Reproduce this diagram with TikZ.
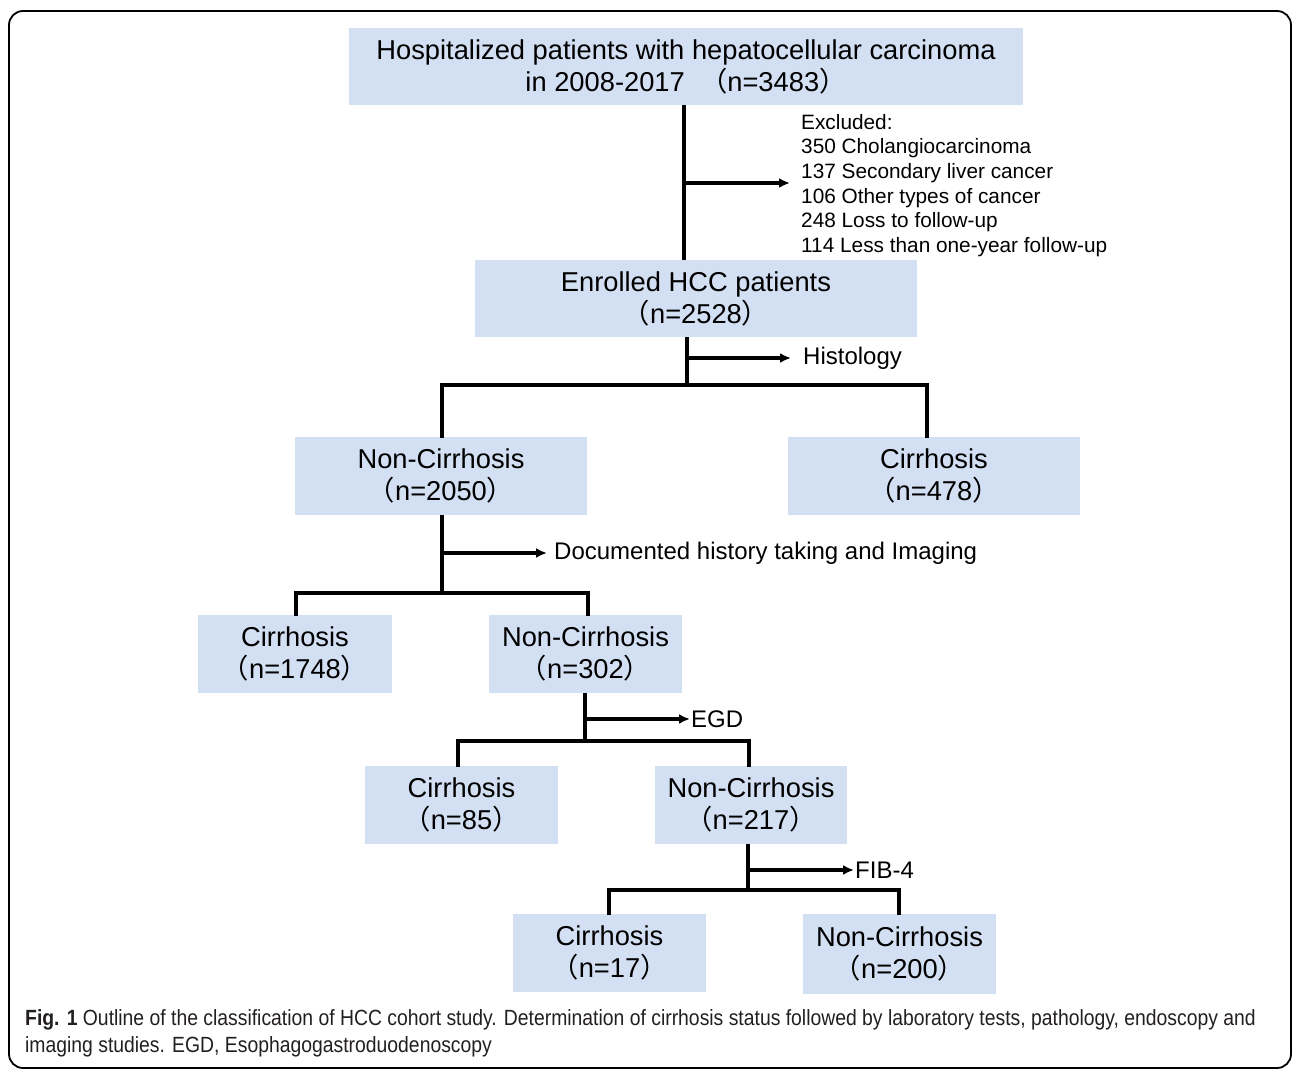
\documentclass[tikz,border=0pt]{standalone}
\usepackage{fontspec}
\setmainfont{Liberation Sans}
\newfontfamily\cjk{Noto Sans CJK SC}
\newfontfamily\capfont[FakeStretch=0.88]{Liberation Sans}
\usetikzlibrary{arrows.meta}
\definecolor{boxblue}{RGB}{211,223,242}
\definecolor{capgray}{RGB}{35,31,32}
\newcommand{\lpar}{{\cjk （}}
\newcommand{\rpar}{{\cjk ）}}
\begin{document}
\begin{tikzpicture}[x=1pt,y=-1pt,
  box/.style={fill=boxblue, inner sep=0pt, align=center, font=\fontsize{27.3}{32}\selectfont},
  conn/.style={line width=3.2pt, line cap=rect},
  arr/.style={line width=3.2pt, -{Latex[length=11pt,width=10pt]}},
  note/.style={inner sep=0pt, anchor=west, font=\fontsize{24}{28}\selectfont}]
\useasboundingbox (0,0) rectangle (1293,1071);
\draw[line width=1.8pt, rounded corners=14pt] (9,11) rectangle (1291,1068);

% boxes
\node[box, minimum width=674pt, minimum height=77pt] (top) at (686,66.5)
  {Hospitalized patients with hepatocellular carcinoma\\in 2008-2017 \ \lpar n=3483\rpar};
\node[box, minimum width=442pt, minimum height=77pt] (enr) at (696,298.5)
  {Enrolled HCC patients\\\lpar n=2528\rpar};
\node[box, minimum width=292pt, minimum height=78pt] (nc1) at (441,476)
  {Non-Cirrhosis\\\lpar n=2050\rpar};
\node[box, minimum width=292pt, minimum height=78pt] (c1) at (934,476)
  {Cirrhosis\\\lpar n=478\rpar};
\node[box, minimum width=194pt, minimum height=78pt] (c2) at (295,654)
  {Cirrhosis\\\lpar n=1748\rpar};
\node[box, minimum width=193pt, minimum height=78pt] (nc2) at (585.5,654)
  {Non-Cirrhosis\\\lpar n=302\rpar};
\node[box, minimum width=193pt, minimum height=78pt] (c3) at (461.5,805)
  {Cirrhosis\\\lpar n=85\rpar};
\node[box, minimum width=192pt, minimum height=78pt] (nc3) at (751,805)
  {Non-Cirrhosis\\\lpar n=217\rpar};
\node[box, minimum width=193pt, minimum height=78pt] (c4) at (609.5,953)
  {Cirrhosis\\\lpar n=17\rpar};
\node[box, minimum width=193pt, minimum height=80pt] (nc4) at (899.5,954)
  {Non-Cirrhosis\\\lpar n=200\rpar};

% excluded
\node[inner sep=0pt, anchor=north west, align=left, font=\fontsize{20.8}{24.6}\selectfont] (excl) at (801,114)
  {Excluded:\\350 Cholangiocarcinoma\\137 Secondary liver cancer\\106 Other types of cancer\\248 Loss to follow-up\\114 Less than one-year follow-up};
\node[note] (hist) at (803,358) {Histology};
\node[note] (doc) at (554,553) {Documented history taking and Imaging};
\node[note] (egd) at (691,719) {EGD};
\node[note] (fib) at (855,870) {FIB-4};

% junction coordinates
\coordinate (j1) at (684,183);
\coordinate (a1) at (790,183);
\coordinate (j2) at (687,358);
\coordinate (a2) at (791,358);
\coordinate (t2) at (687,385);
\coordinate (L2) at (442,385);
\coordinate (R2) at (927,385);
\coordinate (j3) at (442,553);
\coordinate (a3) at (547,553);
\coordinate (L3) at (296,593);
\coordinate (R3) at (588,593);
\coordinate (t3) at (442,593);
\coordinate (j4) at (585,719);
\coordinate (a4) at (690,719);
\coordinate (t4) at (585,741);
\coordinate (L4) at (458,741);
\coordinate (R4) at (749,741);
\coordinate (j5) at (748,870);
\coordinate (a5) at (854,870);
\coordinate (t5) at (748,890);
\coordinate (L5) at (609,890);
\coordinate (R5) at (899,890);

% connectors
\draw[conn, line cap=butt] (top.south -| j1) -- (enr.north -| j1);
\draw[arr] (j1) -- (a1);
\draw[conn, line cap=butt] (enr.south -| t2) -- (t2);
\draw[arr] (j2) -- (a2);
\draw[conn] (L2 |- nc1.north) -- (L2) -- (R2) -- (R2 |- c1.north);

\draw[conn, line cap=butt] (nc1.south -| t3) -- (t3);
\draw[arr] (j3) -- (a3);
\draw[conn] (L3 |- c2.north) -- (L3) -- (R3) -- (R3 |- nc2.north);

\draw[conn, line cap=butt] (nc2.south -| t4) -- (t4);
\draw[arr] (j4) -- (a4);
\draw[conn] (L4 |- c3.north) -- (L4) -- (R4) -- (R4 |- nc3.north);

\draw[conn, line cap=butt] (nc3.south -| t5) -- (t5);
\draw[arr] (j5) -- (a5);
\draw[conn] (L5 |- c4.north) -- (L5) -- (R5) -- (R5 |- nc4.north);

% caption
\node[inner sep=0pt, anchor=west, text=capgray, font=\capfont\fontsize{22}{26}\selectfont] (cap1) at (25,1020)
  {\textbf{Fig. 1} Outline of the classification of HCC cohort study. Determination of cirrhosis status followed by laboratory tests, pathology, endoscopy and};
\node[inner sep=0pt, anchor=west, text=capgray, font=\capfont\fontsize{22}{26}\selectfont] (cap2) at (25,1047)
  {imaging studies. EGD, Esophagogastroduodenoscopy};
\end{tikzpicture}
\end{document}
